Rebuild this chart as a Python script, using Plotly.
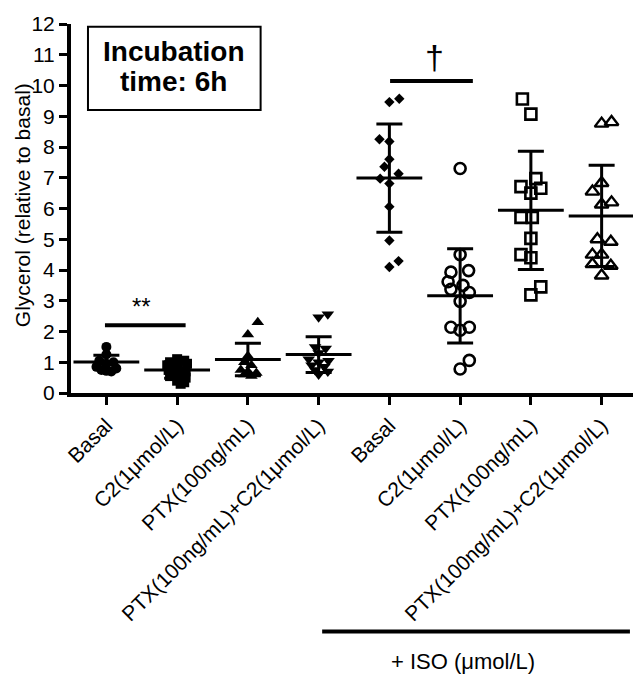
import plotly.graph_objects as go

# ---------------- data ----------------
categories = ["Basal", "C2(1μmol/L)", "PTX(100ng/mL)", "PTX(100ng/mL)+C2(1μmol/L)",
              "Basal", "C2(1μmol/L)", "PTX(100ng/mL)", "PTX(100ng/mL)+C2(1μmol/L)"]

basal_vals = [1.5, 1.25, 1.05, 1.0, 0.95, 0.85, 0.8, 0.72, 0.75, 0.7]
c2_vals = [1.1, 1.05, 1.0, 0.95, 0.9, 0.85, 0.75, 0.7, 0.65, 0.55, 0.5, 0.4, 0.35, 0.3]
ptx_vals = [2.3, 1.9, 1.2, 1.0, 0.9, 0.75, 0.7, 0.65, 0.6, 0.55]
ptxc2_vals = [2.46, 2.56, 1.5, 1.45, 1.3, 1.1, 1.05, 1.0, 0.9, 0.85, 0.75, 0.7, 0.6]
iso_basal_vals = [9.46, 9.57, 8.25, 8.18, 7.6, 7.36, 6.97, 7.13, 6.81, 6.06, 4.96, 4.1, 4.29]
iso_c2_vals = [7.3, 4.5, 3.98, 3.93, 3.62, 3.37, 3.5, 3.27, 2.98, 2.14, 2.04, 2.14, 0.78, 1.06]
iso_ptx_vals = [9.56, 9.07, 6.71, 6.97, 6.66, 6.5, 5.71, 5.71, 5.03, 4.5, 4.4, 3.45, 3.19]
iso_ptxc2_vals = [8.76, 8.81, 6.83, 6.55, 6.13, 6.2, 5.0, 4.92, 4.5, 4.5, 4.19, 4.14, 3.82]

# horizontal scatter (jitter) of each point, in category units
basal_jit = [0, 0, -0.1, 0.1, 0, -0.14, 0.14, 0, -0.07, 0.07]
c2_jit = [0, 0.1, -0.1, 0.14, -0.14, 0, -0.12, 0.12, 0, -0.1, 0.12, 0, 0.1, 0.05]
ptx_jit = [0.14, 0, 0, -0.05, 0.05, -0.1, 0, 0.12, -0.05, 0.05]
ptxc2_jit = [0, 0.13, -0.05, 0.1, 0, -0.14, 0.14, 0, -0.1, 0.08, -0.05, 0.13, 0]
iso_basal_jit = [0, 0.14, -0.14, 0, 0, -0.07, -0.13, 0.13, 0, 0, 0, 0, 0.13]
iso_c2_jit = [0, 0, 0.12, -0.13, -0.17, -0.13, 0.04, 0.13, 0, -0.13, 0, 0.13, 0, 0.13]
iso_ptx_jit = [-0.12, 0, -0.14, 0.07, 0.14, 0, -0.14, 0.02, 0, -0.14, 0, 0.14, 0]
iso_ptxc2_jit = [0, 0.14, 0, -0.13, 0, 0.14, -0.06, 0.13, -0.13, 0, -0.13, 0.13, 0]

means = [1.01, 0.75, 1.09, 1.25, 6.99, 3.16, 5.94, 5.76]
sds = [0.22, 0.27, 0.53, 0.58, 1.76, 1.53, 1.92, 1.65]

y_ticks = list(range(0, 13))

all_vals = [basal_vals, c2_vals, ptx_vals, ptxc2_vals,
            iso_basal_vals, iso_c2_vals, iso_ptx_vals, iso_ptxc2_vals]
all_jit = [basal_jit, c2_jit, ptx_jit, ptxc2_jit,
           iso_basal_jit, iso_c2_jit, iso_ptx_jit, iso_ptxc2_jit]

# ---------------- styles ----------------
marker_styles = [
    dict(symbol="circle", size=10, color="black"),
    dict(symbol="square", size=10, color="black"),
    dict(symbol="triangle-up", size=11, color="black"),
    dict(symbol="triangle-down", size=11, color="black"),
    dict(symbol="diamond", size=8, color="black"),
    dict(symbol="circle-open", size=11, color="black", line=dict(width=2.6, color="black")),
    dict(symbol="square-open", size=11, color="black", line=dict(width=2.6, color="black")),
    dict(symbol="triangle-up-open", size=12, color="black", line=dict(width=2.4, color="black")),
]

FONT = "Liberation Sans, Arial, sans-serif"

fig = go.Figure()

# mean lines with SD error bars
for i, (m, s) in enumerate(zip(means, sds)):
    fig.add_trace(go.Scatter(
        x=[i], y=[m], mode="markers",
        marker=dict(symbol="line-ew", size=47, color="black",
                    line=dict(width=3, color="black")),
        error_y=dict(type="data", array=[s], visible=True,
                     thickness=3, width=13, color="black"),
        showlegend=False, hoverinfo="skip"))

# data points
for i, (vals, jit) in enumerate(zip(all_vals, all_jit)):
    fig.add_trace(go.Scatter(
        x=[i + j for j in jit], y=vals, mode="markers",
        marker=marker_styles[i], showlegend=False))

# ---------------- layout ----------------
shapes = [
    dict(type="line", xref="x", yref="y", x0=-0.02, x1=1.12, y0=2.2, y1=2.2,
         line=dict(color="black", width=4)),
    dict(type="line", xref="x", yref="y", x0=4.01, x1=5.18, y0=10.15, y1=10.15,
         line=dict(color="black", width=4)),
    dict(type="rect", xref="x", yref="y", x0=-0.26, x1=2.18, y0=9.2, y1=11.91,
         line=dict(color="black", width=2)),
    dict(type="line", xref="x", yref="paper", x0=3.05, x1=7.40, y0=-0.6465, y1=-0.6465,
         line=dict(color="black", width=4)),
]

annotations = [
    dict(x=0.5, y=2.8, xref="x", yref="y", text="**", showarrow=False,
         xanchor="center", yanchor="middle",
         font=dict(size=24, color="black", family=FONT)),
    dict(x=4.64, y=10.93, xref="x", yref="y", text="†", showarrow=False,
         xanchor="center", yanchor="middle",
         font=dict(size=34, color="black", family=FONT)),
    dict(x=0.95, y=11.12, xref="x", yref="y", text="<b>Incubation</b>", showarrow=False,
         xanchor="center", yanchor="middle",
         font=dict(size=28, color="black", family=FONT)),
    dict(x=0.95, y=10.12, xref="x", yref="y", text="<b>time: 6h</b>", showarrow=False,
         xanchor="center", yanchor="middle",
         font=dict(size=28, color="black", family=FONT)),
    dict(x=-0.086, y=0.51, xref="paper", yref="paper", text="Glycerol (relative to basal)",
         textangle=-90, showarrow=False, xanchor="center", yanchor="middle",
         font=dict(size=21, color="black", family=FONT)),
    dict(x=5.045, y=-0.728, xref="x", yref="paper", text="+ ISO (μmol/L)", showarrow=False,
         xanchor="center", yanchor="middle",
         font=dict(size=22, color="black", family=FONT)),
]

# the page body has an 8px default margin: compensate so the plot sits where the reference does
fig.update_layout(
    width=633, height=672,
    margin=dict(l=63, r=4, t=4, b=287),
    paper_bgcolor="white", plot_bgcolor="white",
    font=dict(family=FONT, color="black"),
    shapes=shapes, annotations=annotations,
    xaxis=dict(range=[-0.5, 7.5], tickmode="array", tickvals=list(range(8)),
               ticktext=categories, tickangle=-45,
               showline=True, linecolor="black", linewidth=4,
               ticks="outside", ticklen=8, tickwidth=3, tickcolor="black",
               showgrid=False, zeroline=False,
               tickfont=dict(size=21, color="black", family=FONT)),
    yaxis=dict(range=[0, 12], tickmode="array", tickvals=y_ticks,
               showline=True, linecolor="black", linewidth=4,
               ticks="outside", ticklen=8, tickwidth=3, tickcolor="black",
               showgrid=False, zeroline=False, ticklabeloverflow="allow",
               tickfont=dict(size=21, color="black", family=FONT)),
)

fig.write_html("out.html")
